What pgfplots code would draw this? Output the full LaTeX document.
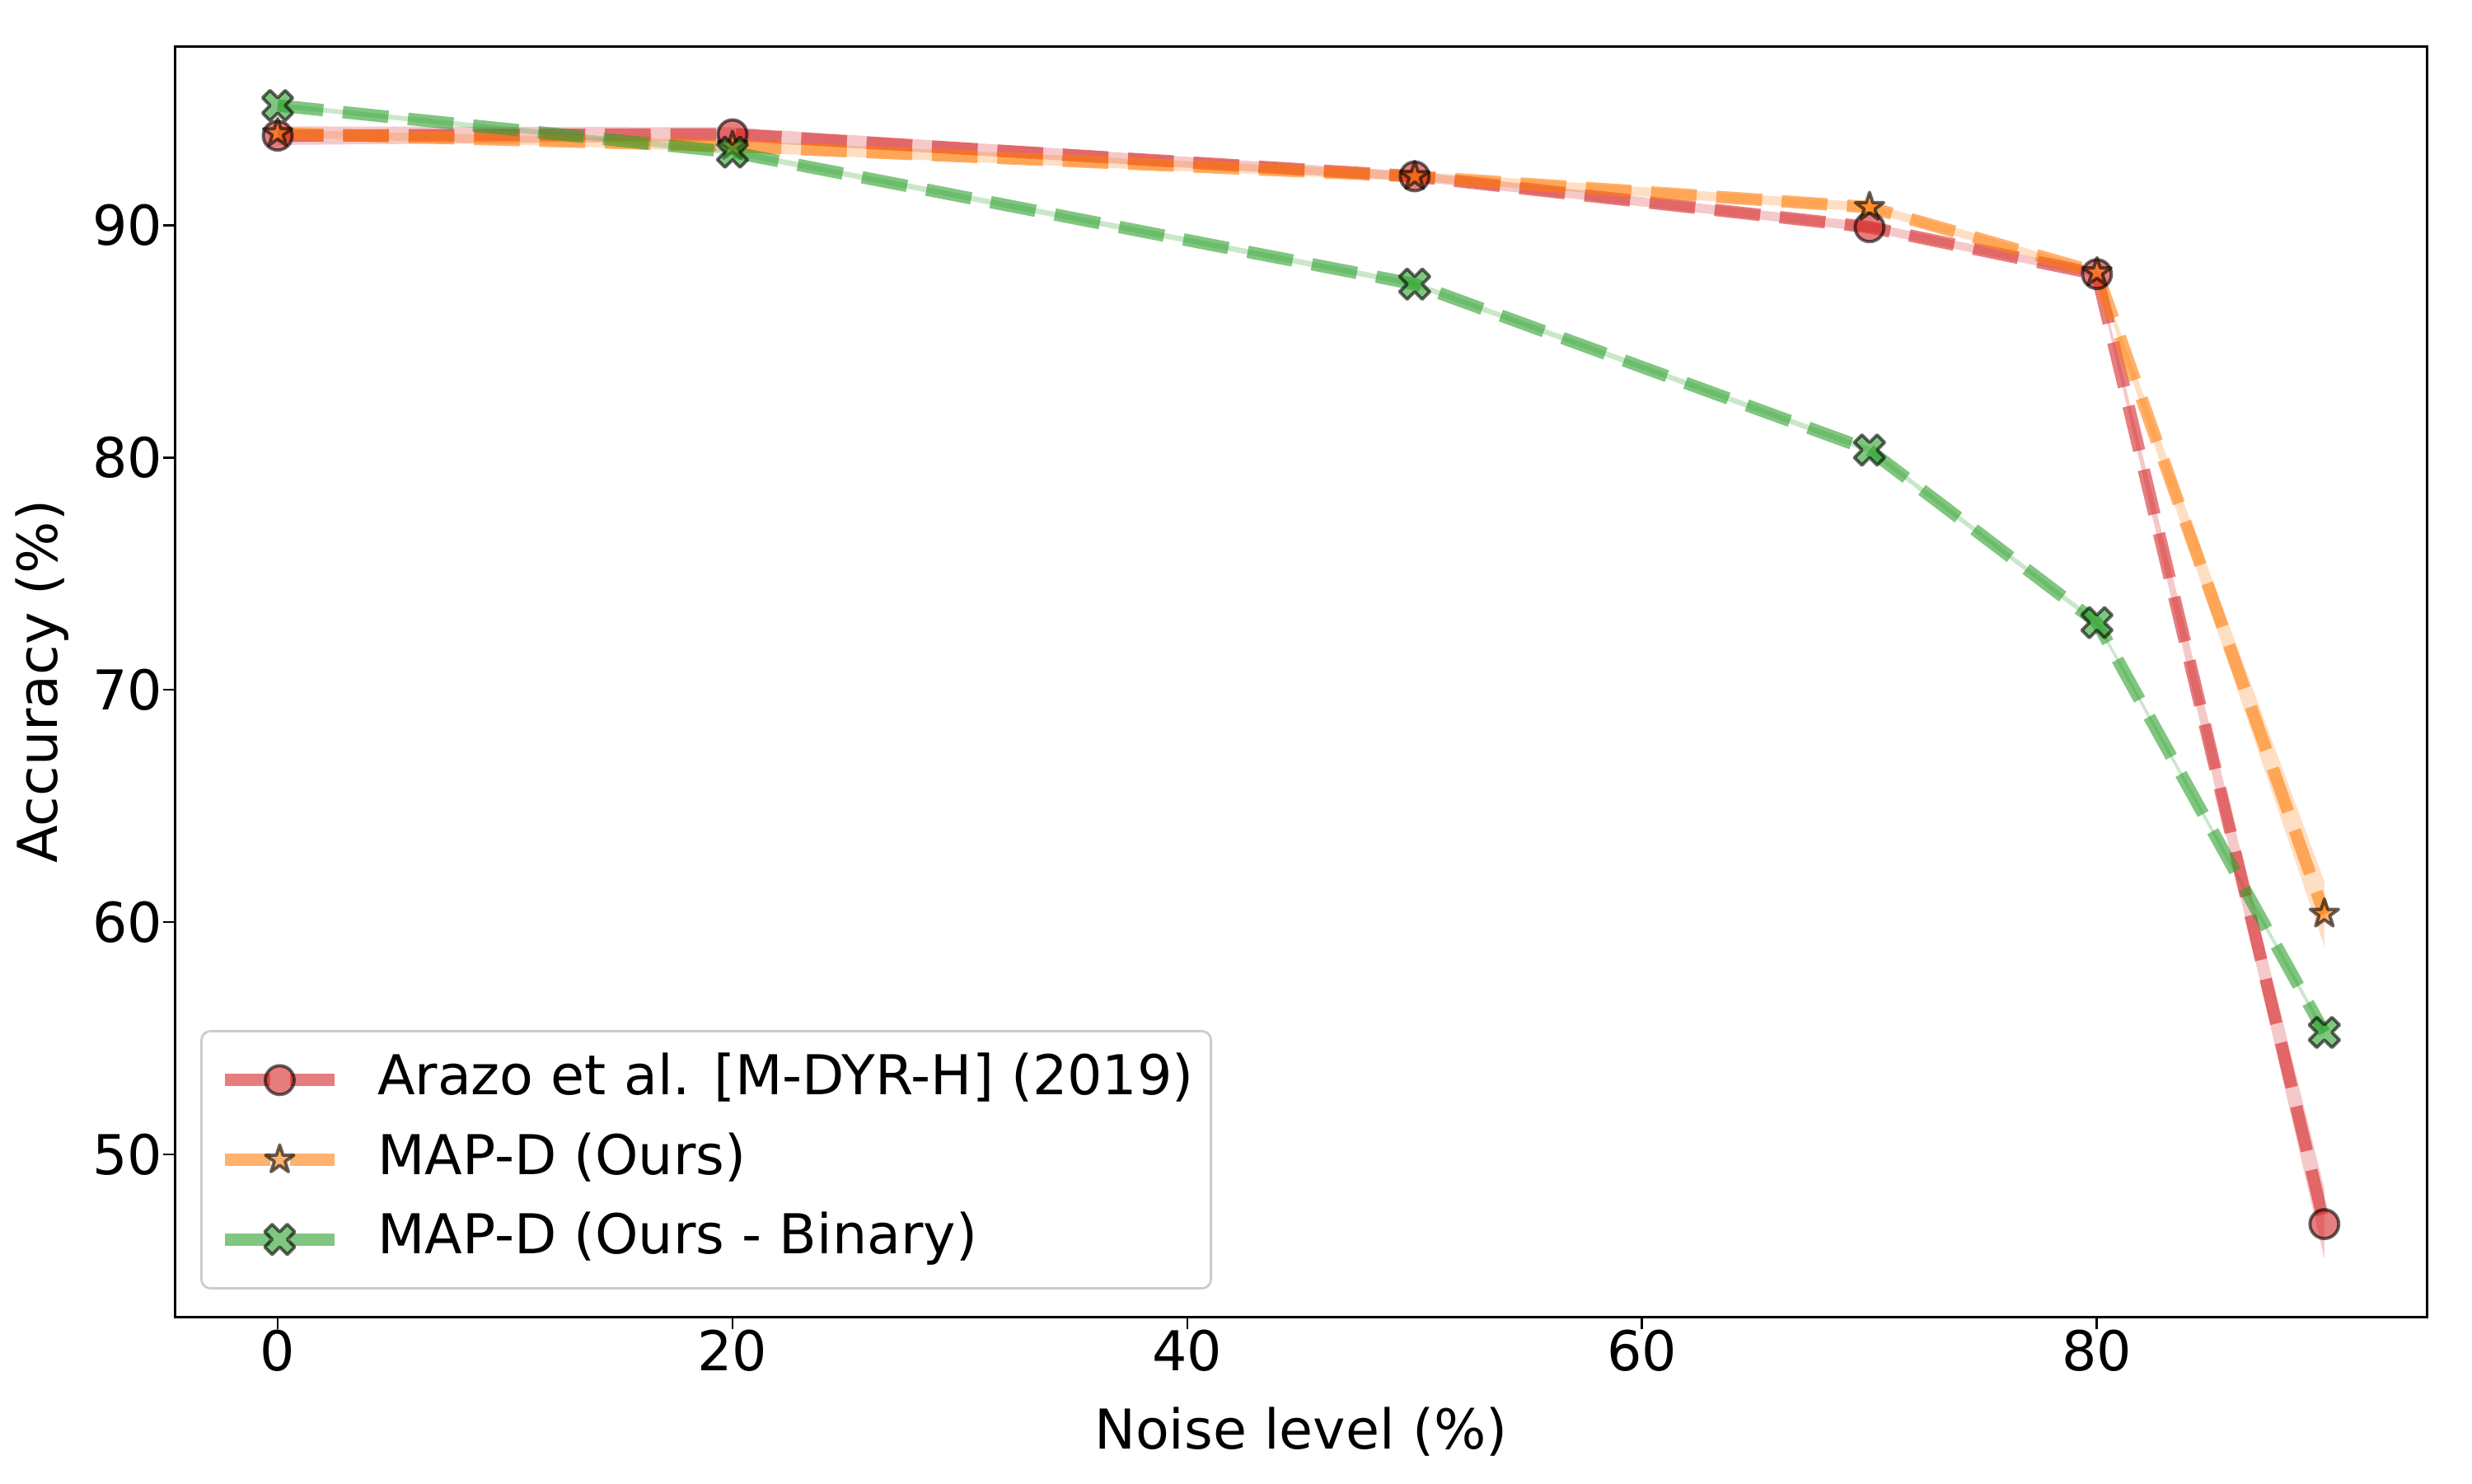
\documentclass[border=0pt]{standalone}
\usepackage{fontspec}
\setmainfont{DejaVu Sans}
\usepackage{pgfplots}
\pgfplotsset{compat=1.18}
\definecolor{tred}{HTML}{D62728}
\definecolor{torange}{HTML}{FF7F0E}
\definecolor{tgreen}{HTML}{2CA02C}
\newcommand{\F}{\fontsize{24}{28.8}\selectfont}

\pgfdeclareplotmark{fstar}{%
  \pgfpathmoveto{\pgfqpoint{0pt}{\pgfplotmarksize}}%
  \pgfpathlineto{\pgfqpoint{-0.2245\pgfplotmarksize}{0.3090\pgfplotmarksize}}%
  \pgfpathlineto{\pgfqpoint{-0.9511\pgfplotmarksize}{0.3090\pgfplotmarksize}}%
  \pgfpathlineto{\pgfqpoint{-0.3633\pgfplotmarksize}{-0.1180\pgfplotmarksize}}%
  \pgfpathlineto{\pgfqpoint{-0.5878\pgfplotmarksize}{-0.8090\pgfplotmarksize}}%
  \pgfpathlineto{\pgfqpoint{0pt}{-0.382\pgfplotmarksize}}%
  \pgfpathlineto{\pgfqpoint{0.5878\pgfplotmarksize}{-0.8090\pgfplotmarksize}}%
  \pgfpathlineto{\pgfqpoint{0.3633\pgfplotmarksize}{-0.1180\pgfplotmarksize}}%
  \pgfpathlineto{\pgfqpoint{0.9511\pgfplotmarksize}{0.3090\pgfplotmarksize}}%
  \pgfpathlineto{\pgfqpoint{0.2245\pgfplotmarksize}{0.3090\pgfplotmarksize}}%
  \pgfpathclose
  \pgfusepathqfillstroke
}
\pgfdeclareplotmark{fX}{%
  \pgfpathmoveto{\pgfqpoint{0.4714\pgfplotmarksize}{-0.9428\pgfplotmarksize}}%
  \pgfpathlineto{\pgfqpoint{0.9428\pgfplotmarksize}{-0.4714\pgfplotmarksize}}%
  \pgfpathlineto{\pgfqpoint{0.4714\pgfplotmarksize}{0pt}}%
  \pgfpathlineto{\pgfqpoint{0.9428\pgfplotmarksize}{0.4714\pgfplotmarksize}}%
  \pgfpathlineto{\pgfqpoint{0.4714\pgfplotmarksize}{0.9428\pgfplotmarksize}}%
  \pgfpathlineto{\pgfqpoint{0pt}{0.4714\pgfplotmarksize}}%
  \pgfpathlineto{\pgfqpoint{-0.4714\pgfplotmarksize}{0.9428\pgfplotmarksize}}%
  \pgfpathlineto{\pgfqpoint{-0.9428\pgfplotmarksize}{0.4714\pgfplotmarksize}}%
  \pgfpathlineto{\pgfqpoint{-0.4714\pgfplotmarksize}{0pt}}%
  \pgfpathlineto{\pgfqpoint{-0.9428\pgfplotmarksize}{-0.4714\pgfplotmarksize}}%
  \pgfpathlineto{\pgfqpoint{-0.4714\pgfplotmarksize}{-0.9428\pgfplotmarksize}}%
  \pgfpathlineto{\pgfqpoint{0pt}{-0.4714\pgfplotmarksize}}%
  \pgfpathclose
  \pgfusepathqfillstroke
}

\begin{document}
\begin{tikzpicture}
\begin{axis}[
  name=ax,
  scale only axis,
  width=983.6pt, height=555.2pt,
  xmin=-4.5, xmax=94.5, ymin=43.0, ymax=97.7,
  xtick={0,20,40,60,80}, ytick={50,60,70,80,90},
  tick pos=left, tick align=outside,
  major tick length=5.4pt,
  every tick/.style={black, line width=1pt},
  axis line style={line width=1.1pt},
  ticklabel style={font=\F},
  /pgf/number format/assume math mode=true,
  xticklabel style={anchor=north, inner sep=0pt},
  yticklabel style={anchor=east, inner sep=0pt},
  xlabel={Noise level (\%)}, ylabel={Accuracy (\%)},
  label style={font=\F},
  xlabel style={at={(axis description cs:0.5,-0.10375)}, anchor=base, inner sep=0pt},
  ylabel style={at={(axis description cs:-0.05226,0.5)}, anchor=base, inner sep=0pt},
  legend image code/.code={\draw[mark repeat=2,mark phase=2,#1] plot coordinates {(0pt,0pt)(24pt,0pt)(48pt,0pt)};},
  legend cell align=left,
  legend style={
    at={(axis description cs:0.0111,0.02162)}, anchor=south west,
    draw=black!20, line width=1pt, rounded corners=4pt, fill=white,
    font=\F,
    inner xsep=7.5pt, inner ysep=10.3pt,
    row sep=12.6pt, column sep=16pt,
    nodes={inner sep=0pt, text height=17.5pt, text depth=4.7pt},
  },
]
% bands
\addplot[draw=none, fill=tred, fill opacity=0.25, forget plot] coordinates {
 (0,94.25)(20,94.21)(50,92.3)(70,90.11)(80,88.04)(90,48.5)
 (90,45.5)(80,87.74)(70,89.71)(50,91.9)(20,93.61)(0,93.45)} -- cycle;
\addplot[draw=none, fill=torange, fill opacity=0.25, forget plot] coordinates {
 (0,94.1)(20,93.65)(50,92.3)(70,90.97)(80,88.11)(90,61.75)
 (90,58.95)(80,87.81)(70,90.57)(50,91.9)(20,93.15)(0,93.8)} -- cycle;
\addplot[draw=none, fill=tgreen, fill opacity=0.25, forget plot] coordinates {
 (0,95.25)(20,93.26)(50,87.58)(70,80.44)(80,73.01)(90,55.4)
 (90,55.1)(80,72.77)(70,80.2)(50,87.34)(20,93.02)(0,95.05)} -- cycle;
% lines
\addplot[draw=tred, draw opacity=0.6, line width=5.4pt, line join=round, dash pattern=on 20pt off 8.6pt,
  mark=*, mark size=6.3pt,
  mark options={solid, fill=tred, fill opacity=0.6, draw=black, draw opacity=0.6, line width=1.4pt}]
  coordinates {(0,93.85)(20,93.91)(50,92.1)(70,89.91)(80,87.89)(90,47.0)};
\addlegendentry{Arazo et al. [M-DYR-H] (2019)}
\addplot[draw=torange, draw opacity=0.6, line width=5.4pt, line join=round, dash pattern=on 20pt off 8.6pt,
  mark=fstar, mark size=6.5pt,
  mark options={solid, fill=torange, fill opacity=0.6, draw=black, draw opacity=0.6, line width=1.4pt}]
  coordinates {(0,93.95)(20,93.4)(50,92.1)(70,90.77)(80,87.96)(90,60.35)};
\addlegendentry{MAP-D (Ours)}
\addplot[draw=tgreen, draw opacity=0.6, line width=5.4pt, line join=round, dash pattern=on 20pt off 8.6pt,
  mark=fX, mark size=7pt,
  mark options={solid, fill=tgreen, fill opacity=0.6, draw=black, draw opacity=0.6, line width=1.4pt}]
  coordinates {(0,95.15)(20,93.14)(50,87.46)(70,80.32)(80,72.89)(90,55.25)};
\addlegendentry{MAP-D (Ours - Binary)}
\end{axis}
\pgfresetboundingbox
\path[use as bounding box] ([xshift=-76.6pt,yshift=-72.6pt]ax.south west) rectangle ([xshift=19.8pt,yshift=20.2pt]ax.north east);
\end{tikzpicture}
\end{document}
